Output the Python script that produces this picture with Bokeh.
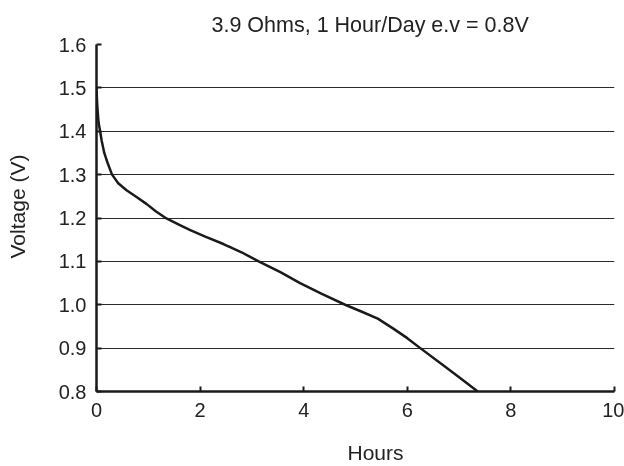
from bokeh.plotting import figure
from bokeh.models import Range1d, FixedTicker, PrintfTickFormatter, Title
from bokeh.embed import file_html
from bokeh.resources import INLINE

title_text = "3.9 Ohms, 1 Hour/Day e.v = 0.8V"
x_label = "Hours"
y_label = "Voltage (V)"

hours = [0.0, 0.01, 0.02, 0.04, 0.07, 0.10, 0.15, 0.22, 0.30, 0.42, 0.58, 0.78, 0.97,
         1.15, 1.35, 1.60, 1.81, 2.10, 2.45, 2.80, 3.13, 3.55, 3.93, 4.35, 4.80, 5.10,
         5.43, 5.73, 6.00, 6.25, 6.70, 7.00, 7.36]
volts = [1.50, 1.47, 1.45, 1.42, 1.40, 1.378, 1.35, 1.325, 1.30, 1.28, 1.264, 1.248, 1.232,
         1.215, 1.199, 1.184, 1.172, 1.157, 1.140, 1.121, 1.10, 1.075, 1.05, 1.025, 1.00, 0.985,
         0.968, 0.945, 0.923, 0.90, 0.860, 0.833, 0.80]

x_ticks = [0, 2, 4, 6, 8, 10]
y_ticks = [0.8, 0.9, 1.0, 1.1, 1.2, 1.3, 1.4, 1.5, 1.6]

FONT = "Liberation Sans"
SHIFT = 26
W, H = 624 + SHIFT, 488

p = figure(width=W, height=H, output_backend="svg", toolbar_location=None,
           x_range=Range1d(0, 10), y_range=Range1d(0.8, 1.6),
           min_border_left=96 + SHIFT, min_border_right=10, min_border_top=44,
           min_border_bottom=H - 391)
p.styles = {"position": "fixed", "left": f"-{SHIFT}px", "top": "0px"}
p.outline_line_color = None
p.background_fill_color = "white"
p.border_fill_color = "white"

p.xgrid.visible = False
p.ygrid.ticker = FixedTicker(ticks=y_ticks)
p.ygrid.grid_line_color = "#2a2a2a"
p.ygrid.grid_line_width = 1

for ax in (p.xaxis[0], p.yaxis[0]):
    ax.axis_line_color = "#1a1a1a"
    ax.axis_line_width = 2.5
    ax.major_tick_line_color = "#1a1a1a"
    ax.major_tick_line_width = 2
    ax.major_tick_in = 5
    ax.major_tick_out = 0
    ax.minor_tick_line_color = None
    ax.major_label_text_font = FONT
    ax.major_label_text_font_size = "20px"
    ax.major_label_text_color = "#222222"

p.xaxis.ticker = FixedTicker(ticks=x_ticks)
p.yaxis.ticker = FixedTicker(ticks=y_ticks)
p.yaxis.formatter = PrintfTickFormatter(format="%.1f")
p.xaxis.major_label_standoff = 11
p.yaxis.major_label_standoff = 10

p.line(hours, volts, line_color="#1a1a1a", line_width=2.5, line_join="round")

p.add_layout(Title(text=title_text, align="left", offset=115, standoff=16,
                   vertical_align="bottom", text_font=FONT, text_font_size="21.5px",
                   text_font_style="normal", text_color="#222222"), "above")
p.add_layout(Title(text=x_label, align="left", offset=251, standoff=38,
                   vertical_align="bottom", text_font=FONT, text_font_size="21px",
                   text_font_style="normal", text_color="#222222"), "below")
p.add_layout(Title(text=y_label, align="left", offset=133, standoff=54,
                   vertical_align="bottom", text_font=FONT, text_font_size="21px",
                   text_font_style="normal", text_color="#222222"), "left")

open("out.html", "w").write(file_html(p, INLINE))
